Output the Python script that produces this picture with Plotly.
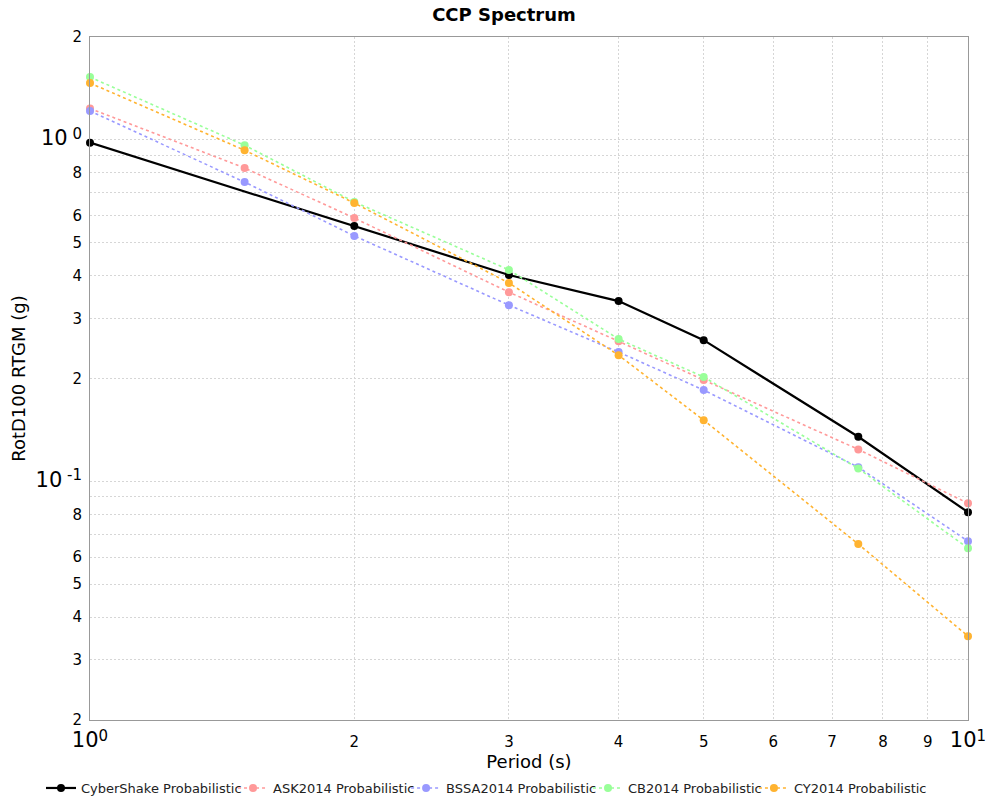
import plotly.graph_objects as go

periods = [1, 1.5, 2, 3, 4, 5, 7.5, 10]
cs_periods = [1, 2, 3, 4, 5, 7.5, 10]
cybershake = [0.981, 0.559, 0.402, 0.337, 0.259, 0.135, 0.0812]
ask2014 = [1.235, 0.827, 0.590, 0.358, 0.257, 0.198, 0.124, 0.0862]
bssa2014 = [1.214, 0.752, 0.523, 0.328, 0.239, 0.185, 0.110, 0.0668]
cb2014 = [1.526, 0.964, 0.658, 0.416, 0.261, 0.202, 0.109, 0.0637]
cy2014 = [1.466, 0.932, 0.653, 0.381, 0.234, 0.151, 0.0655, 0.0352]

names = ["CyberShake Probabilistic", "ASK2014 Probabilistic", "BSSA2014 Probabilistic",
         "CB2014 Probabilistic", "CY2014 Probabilistic"]
colors = ["#000000", "#ff9999", "#9999ff", "#99ff99", "#ffb330"]
legend_x = [-0.0558, 0.1629, 0.3600, 0.5672, 0.7562]

big = "<span style='font-size:21px'>10</span>"
def sup(s):
    return "<sup><span style='font-size:15px'>" + s + "</span></sup>"
x_tickvals = [1, 2, 3, 4, 5, 6, 7, 8, 9, 10]
x_ticktext = [big + sup("0"), "2", "3", "4", "5", "6", "7", "8", "9", big + sup("1")]
y_tickvals = [0.02, 0.03, 0.04, 0.05, 0.06, 0.07, 0.08, 0.09, 0.1,
              0.2, 0.3, 0.4, 0.5, 0.6, 0.7, 0.8, 0.9, 1, 2]
y_ticktext = ["2", "3", "4", "5", "6", "", "8", "", big + " " + sup("-1"),
              "2", "3", "4", "5", "6", "", "8", "", big + " " + sup("0"), "2"]

fig = go.Figure()
series = [(cs_periods, cybershake), (periods, ask2014), (periods, bssa2014),
          (periods, cb2014), (periods, cy2014)]
legend_layout = {}
for i, (xs, ys) in enumerate(series):
    if i == 0:
        line = dict(color=colors[i], width=2.2)
    else:
        line = dict(color=colors[i], width=1.6, dash="dot")
    lg = "legend" if i == 0 else f"legend{i+1}"
    fig.add_trace(go.Scatter(x=xs, y=ys, mode="lines+markers", name=names[i],
                             line=line, marker=dict(color=colors[i], size=8),
                             cliponaxis=False, legend=lg))
    legend_layout[lg] = dict(orientation="h", x=legend_x[i], xanchor="left", y=-0.0996,
                             yanchor="middle", font=dict(size=13, color="#222"),
                             itemwidth=30, bgcolor="rgba(0,0,0,0)")

fig.update_layout(
    width=992, height=792,
    margin=dict(l=82, r=32, t=29, b=80, autoexpand=False),
    paper_bgcolor="white", plot_bgcolor="white",
    font=dict(family="DejaVu Sans", color="black"),
    title=dict(text="<b>CCP Spectrum</b>", x=0.5, xanchor="center", y=0.992, yanchor="middle",
               font=dict(size=18, family="DejaVu Sans")),
    showlegend=True,
    **legend_layout,
)
fig.update_xaxes(type="log", range=[0, 1], tickvals=x_tickvals, ticktext=x_ticktext,
                 tickfont=dict(size=15), showgrid=True, gridcolor="#d6d6d6", griddash="2px,2px",
                 gridwidth=1, showline=True, linecolor="#999999", mirror=True, ticks="",
                 zeroline=False, automargin=False, ticklabelstandoff=8,
                 title=dict(text="Period (s)", font=dict(size=18), standoff=4))
fig.update_yaxes(type="log", range=[-1.69897, 0.30103], tickvals=y_tickvals, ticktext=y_ticktext,
                 tickfont=dict(size=15), showgrid=True, gridcolor="#d6d6d6", griddash="2px,2px",
                 gridwidth=1, showline=True, linecolor="#999999", mirror=True, ticks="",
                 zeroline=False, automargin=False, ticklabelstandoff=4,
                 title=dict(text="RotD100 RTGM (g)", font=dict(size=18), standoff=18))

fig.write_html("out.html")
